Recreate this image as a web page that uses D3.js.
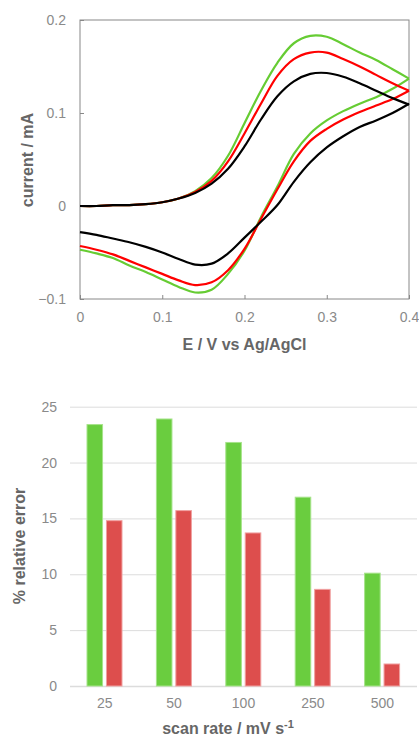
<!DOCTYPE html>
<html>
<head>
<meta charset="utf-8">
<script src="https://cdn.jsdelivr.net/npm/d3@7"></script>
<style>
	body { margin: 0; background: #fff; }
	svg text { font-family: Arial, "Liberation Sans", sans-serif; }
</style>
</head>
<body>
<div id="chart"></div>
<script>
// cyclic voltammograms, potential grid (V) shared by all branches
var potential = [0, 0.02, 0.04, 0.06, 0.08, 0.10, 0.12, 0.14, 0.16, 0.18, 0.20, 0.22, 0.24, 0.26, 0.28, 0.30, 0.32, 0.34, 0.36, 0.38, 0.40];

// forward (anodic) sweep, mA
var greenForward = [0, 0.000, 0.001, 0.001, 0.002, 0.004, 0.008, 0.016, 0.030, 0.054, 0.089, 0.124, 0.154, 0.175, 0.183, 0.182, 0.174, 0.165, 0.157, 0.147, 0.137];
var redForward   = [0, 0.000, 0.001, 0.001, 0.002, 0.004, 0.008, 0.015, 0.027, 0.048, 0.078, 0.110, 0.140, 0.158, 0.165, 0.165, 0.158, 0.150, 0.141, 0.132, 0.124];
var blackForward = [0, 0.000, 0.001, 0.001, 0.002, 0.004, 0.008, 0.014, 0.024, 0.040, 0.064, 0.093, 0.118, 0.134, 0.142, 0.143, 0.139, 0.132, 0.124, 0.116, 0.109];

// reverse (cathodic) sweep, mA, listed on the same ascending grid
var greenReverse = [-0.047, -0.051, -0.056, -0.064, -0.071, -0.079, -0.087, -0.093, -0.090, -0.073, -0.048, -0.012, 0.021, 0.056, 0.078, 0.092, 0.102, 0.110, 0.117, 0.126, 0.137];
var redReverse   = [-0.043, -0.047, -0.052, -0.059, -0.066, -0.073, -0.080, -0.085, -0.082, -0.069, -0.046, -0.014, 0.018, 0.048, 0.070, 0.083, 0.093, 0.101, 0.108, 0.115, 0.124];
var blackReverse = [-0.028, -0.031, -0.035, -0.039, -0.044, -0.050, -0.057, -0.063, -0.062, -0.051, -0.034, -0.017, 0.001, 0.026, 0.047, 0.063, 0.075, 0.085, 0.092, 0.100, 0.110];

var cvTicksX = [0, 0.1, 0.2, 0.3, 0.4];
var cvTicksY = [-0.1, 0, 0.1, 0.2];

// relative error bars
var scanRates = ["25", "50", "100", "250", "500"];
var errorGreen = [23.4, 23.9, 21.8, 16.9, 10.1];
var errorRed = [14.8, 15.7, 13.7, 8.65, 1.97];
var errorTicks = [0, 5, 10, 15, 20, 25];

var W = 419, H = 737;
var labelGrey = "#8a8a8a", titleGrey = "#666";

var svg = d3.select("#chart").append("svg")
	.attr("width", W)
	.attr("height", H);

/* ---------- top: CV ---------- */
var x = d3.scaleLinear().domain([0, 0.4]).range([80, 409]);
var y = d3.scaleLinear().domain([-0.1, 0.2]).range([299, 20]);

var cv = svg.append("g");
var fmt = function(d) { return d === 0 ? "0" : d3.format(".1f")(d); };

var xAxis = cv.append("g")
	.attr("transform", "translate(0,299)")
	.call(d3.axisBottom(x).tickValues(cvTicksX).tickSize(-4).tickPadding(13).tickFormat(fmt));
var yAxis = cv.append("g")
	.attr("transform", "translate(80,0)")
	.call(d3.axisLeft(y).tickValues(cvTicksY).tickSize(-4).tickPadding(14).tickFormat(fmt));

[xAxis, yAxis].forEach(function(a) {
	a.select(".domain").remove();
	a.selectAll("line").attr("stroke", "#888");
	a.selectAll("text").attr("fill", labelGrey).style("font-size", "14px");
});

cv.append("rect")
	.attr("x", x(0)).attr("y", y(0.2))
	.attr("width", x(0.4) - x(0)).attr("height", y(-0.1) - y(0.2))
	.attr("fill", "none").attr("stroke", "#888").attr("stroke-width", 1);

var line = d3.line()
	.x(function(d) { return x(d[0]); })
	.y(function(d) { return y(d[1]); })
	.curve(d3.curveCatmullRom.alpha(0.5));

var curves = [
	{ color: "#66cc33", fwd: greenForward, rev: greenReverse },
	{ color: "#ff0000", fwd: redForward, rev: redReverse },
	{ color: "#000000", fwd: blackForward, rev: blackReverse }
];

curves.forEach(function(c) {
	[c.fwd, c.rev].forEach(function(vals) {
		cv.append("path")
			.datum(potential.map(function(p, i) { return [p, vals[i]]; }))
			.attr("d", line)
			.attr("fill", "none")
			.attr("stroke", c.color)
			.attr("stroke-width", 2.2)
			.attr("stroke-linejoin", "round");
	});
});

cv.append("text")
	.attr("x", (x(0) + x(0.4)) / 2).attr("y", 350)
	.attr("text-anchor", "middle")
	.attr("fill", titleGrey)
	.style("font-size", "16px").style("font-weight", "bold")
	.text("E / V vs Ag/AgCl");

cv.append("text")
	.attr("transform", "translate(33,160) rotate(-90)")
	.attr("text-anchor", "middle")
	.attr("fill", titleGrey)
	.style("font-size", "16px").style("font-weight", "bold")
	.text("current / mA");

/* ---------- bottom: bars ---------- */
var bx = d3.scaleBand().domain(scanRates).range([70, 417]);
var bx1 = d3.scaleBand().domain(["green", "red"]).range([17, 52]).paddingInner(0.2);
var by = d3.scaleLinear().domain([0, 25]).range([686, 406.7]);

var bars = svg.append("g");

var grid = bars.append("g")
	.attr("transform", "translate(70,0)")
	.call(d3.axisLeft(by).tickValues(errorTicks).tickSize(-347).tickPadding(13));
grid.select(".domain").remove();
grid.selectAll("line").attr("stroke", "#dcdcdc").attr("stroke-width", function(d) { return d === 0 ? 1.5 : 1; });
grid.selectAll("text").attr("fill", labelGrey).style("font-size", "14px");

var bxAxis = bars.append("g")
	.attr("transform", "translate(0,686)")
	.call(d3.axisBottom(bx).tickSize(0).tickPadding(12));
bxAxis.select(".domain").remove();
bxAxis.selectAll("text").attr("fill", labelGrey).style("font-size", "14px");

var groups = bars.selectAll(".grp").data(scanRates).enter().append("g")
	.attr("transform", function(d) { return "translate(" + bx(d) + ",0)"; });

groups.append("rect")
	.attr("x", bx1("green"))
	.attr("width", bx1.bandwidth())
	.attr("y", function(d, i) { return by(errorGreen[i]); })
	.attr("height", function(d, i) { return by(0) - by(errorGreen[i]); })
	.attr("fill", "#6acd3f")
	.attr("stroke", "#a6e38a").attr("stroke-width", 1);

groups.append("rect")
	.attr("x", bx1("red"))
	.attr("width", bx1.bandwidth())
	.attr("y", function(d, i) { return by(errorRed[i]); })
	.attr("height", function(d, i) { return by(0) - by(errorRed[i]); })
	.attr("fill", "#dd4e4d")
	.attr("stroke", "#f0a0a0").attr("stroke-width", 1);

bars.append("text")
	.attr("transform", "translate(25,546) rotate(-90)")
	.attr("text-anchor", "middle")
	.attr("fill", titleGrey)
	.style("font-size", "16px").style("font-weight", "bold")
	.text("% relative error");

var xt = bars.append("text")
	.attr("x", 228).attr("y", 734)
	.attr("text-anchor", "middle")
	.attr("fill", titleGrey)
	.style("font-size", "16px").style("font-weight", "bold");
xt.append("tspan").text("scan rate / mV s");
xt.append("tspan").attr("dy", -6).style("font-size", "11px").text("-1");
</script>
</body>
</html>
